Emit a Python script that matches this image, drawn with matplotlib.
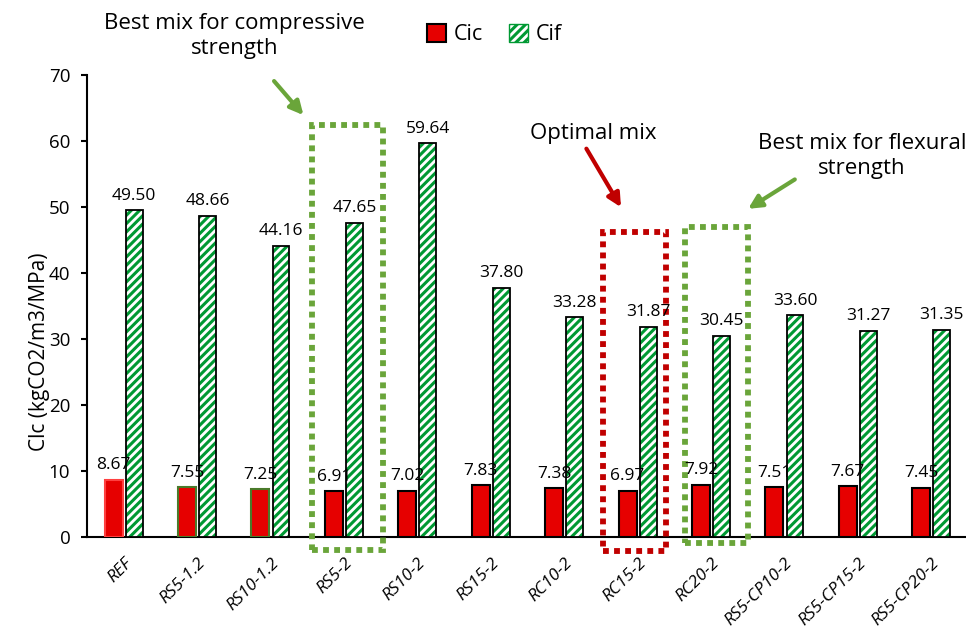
import numpy as np
import matplotlib.pyplot as plt
from matplotlib.patches import Rectangle, Patch

mixes = ['REF', 'RS5-1.2', 'RS10-1.2', 'RS5-2', 'RS10-2', 'RS15-2', 'RC10-2',
         'RC15-2', 'RC20-2', 'RS5-CP10-2', 'RS5-CP15-2', 'RS5-CP20-2']
cic = [8.67, 7.55, 7.25, 6.91, 7.02, 7.83, 7.38, 6.97, 7.92, 7.51, 7.67, 7.45]
cif = [49.50, 48.66, 44.16, 47.65, 59.64, 37.80, 33.28, 31.87, 30.45, 33.60, 31.27, 31.35]

plt.rcParams['font.family'] = ['Open Sans', 'DejaVu Sans']
plt.rcParams['hatch.linewidth'] = 2.2

red = '#e60000'
green = '#009933'
lgreen = '#6aa53a'
dred = '#c00000'

fig = plt.figure(figsize=(9.66, 6.33), dpi=100)
ax = fig.add_axes([0.090, 0.1517, 0.910, 0.7298])

x = np.arange(len(mixes))
w_r, w_g = 0.245, 0.23
off = 0.14

# red edges: light for REF, greenish for the two 1.2 mixes, black otherwise
red_edges = ['#ff4040', '#4a7a2a', '#4a7a2a'] + ['black'] * 9
for i in range(len(mixes)):
    ax.bar(x[i] - off, cic[i], w_r, color=red, edgecolor=red_edges[i], linewidth=1.5, zorder=3)

ax.bar(x + off, cif, w_g, color='white', edgecolor=green, hatch='////', linewidth=0, zorder=3)
ax.bar(x + off, cif, w_g, fill=False, edgecolor='black', linewidth=1.3, zorder=4)

for i in range(len(mixes)):
    ax.text(x[i] - off, cic[i] + 1.0, f'{cic[i]:.2f}', ha='center', va='bottom', fontsize=12.5, zorder=6)
    ax.text(x[i] + off, cif[i] + 1.0, f'{cif[i]:.2f}', ha='center', va='bottom', fontsize=12.5, zorder=6)

ax.set_xlim(-0.504, 11.47)
ax.set_ylim(0, 70)
ax.set_yticks(range(0, 71, 10))
ax.set_ylabel('Clc (kgCO2/m3/MPa)', fontsize=15)
ax.yaxis.set_label_coords(-0.042, 0.40)
ax.set_xticks(x)
ax.set_xticklabels(mixes, rotation=45, ha='right', rotation_mode='anchor', style='italic', fontsize=12.5)
ax.tick_params(axis='x', length=0, pad=13)
ax.tick_params(axis='y', labelsize=13.5, length=4, width=1.5, direction='out', pad=8)
for s in ['top', 'right']:
    ax.spines[s].set_visible(False)
ax.spines['left'].set_linewidth(1.5)
ax.spines['bottom'].set_linewidth(1.5)

# dotted frames around highlighted mixes
boxes = [(2.56, -2.0, 0.97, 64.4, lgreen), (6.53, -2.1, 0.85, 48.3, dred), (7.64, -0.9, 0.86, 47.9, lgreen)]
for bx, by, bw, bh, c in boxes:
    ax.add_patch(Rectangle((bx, by), bw, bh, fill=False, edgecolor=c, linewidth=4.2,
                           linestyle=(0, (1, 0.9)), clip_on=False, zorder=5))

arrow = dict(arrowstyle='-|>', lw=3, mutation_scale=20)
ax.annotate('', xy=(2.47, 63.6), xytext=(2.02, 69.4),
            arrowprops=dict(arrow, color=lgreen), annotation_clip=False)
ax.annotate('', xy=(6.79, 49.6), xytext=(6.28, 59.2),
            arrowprops=dict(arrow, color=dred), annotation_clip=False)
ax.annotate('', xy=(8.47, 49.5), xytext=(9.17, 54.4),
            arrowprops=dict(arrow, color=lgreen), annotation_clip=False)

ax.text(1.51, 75.9, 'Best mix for compressive\nstrength', ha='center', va='center', fontsize=16,
        linespacing=1.25, clip_on=False)
ax.text(6.39, 61.2, 'Optimal mix', ha='center', va='center', fontsize=16)
ax.text(10.05, 57.7, 'Best mix for flexural\nstrength', ha='center', va='center', fontsize=16,
        linespacing=1.25)

handles = [Patch(facecolor=red, edgecolor='black', linewidth=1.5, label='Cic'),
           Patch(facecolor='white', edgecolor=green, hatch='////', label='Cif')]
fig.legend(handles=handles, loc='center', bbox_to_anchor=(0.512, 0.945), ncol=2, frameon=False,
           fontsize=15.5, handlelength=0.9, handleheight=0.9, columnspacing=1.2, handletextpad=0.35)

fig.savefig('out.png', dpi=100)
